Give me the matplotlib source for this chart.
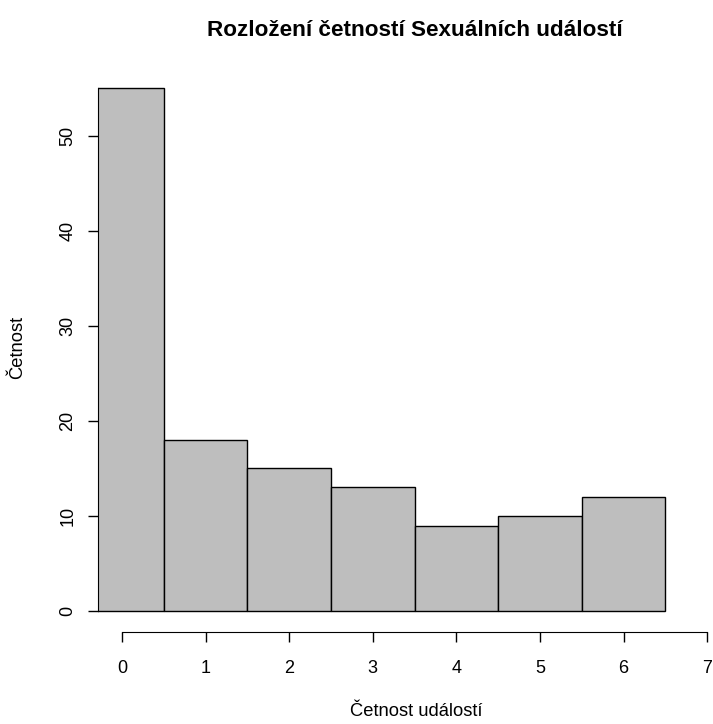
import numpy as np
import matplotlib
matplotlib.use('Agg')
import matplotlib.pyplot as plt

# histogram data: counts per number of events
bin_edges = [-0.5, 0.5, 1.5, 2.5, 3.5, 4.5, 5.5, 6.5]
counts = [55, 18, 15, 13, 9, 10, 12]
x_ticks = [0, 1, 2, 3, 4, 5, 6, 7]
y_ticks = [0, 10, 20, 30, 40, 50]

plt.rcParams['font.family'] = ['Liberation Sans', 'DejaVu Sans']

W, H = 713, 724
fig = plt.figure(figsize=(W / 100, H / 100), dpi=100)
# plot region in pixels (R style, clipped on the right by the image)
left, right, top, bottom = 98, 713, 67.3, 632
ax = fig.add_axes([left / W, (H - bottom) / H, (right - left) / W, (bottom - top) / H])

widths = np.diff(bin_edges)
ax.bar(bin_edges[:-1], counts, width=widths, align='edge',
       color='#BEBEBE', edgecolor='black', linewidth=1.0)

ax.set_xlim(-0.287, 7.07)
ax.set_ylim(-2.2, 57.2)

for s in ['top', 'right']:
    ax.spines[s].set_visible(False)
ax.spines['left'].set_bounds(0, 55)
ax.spines['bottom'].set_bounds(0, 7)

ax.set_xticks(x_ticks)
ax.set_yticks(y_ticks)
ax.tick_params(axis='both', direction='out', length=7.5, width=1.0,
               labelsize=13, colors='black')
ax.tick_params(axis='x', pad=13)
ax.tick_params(axis='y', pad=8)
plt.setp(ax.get_yticklabels(), rotation=90, va='center')

fig.text(415 / W, 1 - 30 / H, 'Rozložení četností Sexuálních událostí',
         ha='center', va='center', fontsize=16.2, fontweight='bold')
fig.text(416 / W, 1 - 712 / H, 'Četnost událostí', ha='center', va='center', fontsize=13.2)
fig.text(18 / W, 1 - 347 / H, 'Četnost', ha='center', va='center', rotation=90, fontsize=13.2)

fig.savefig('out.png', dpi=100)
